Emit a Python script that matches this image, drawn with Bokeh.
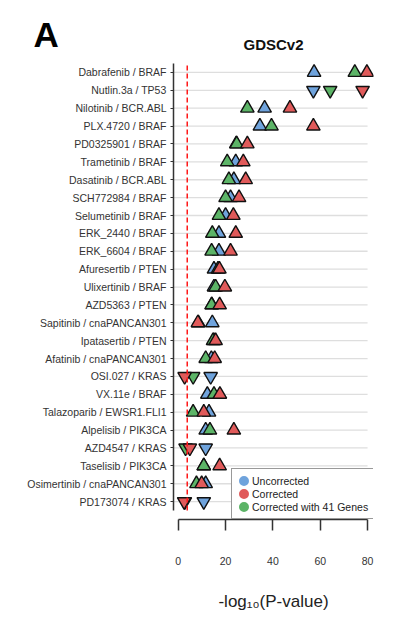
from bokeh.plotting import figure
from bokeh.models import (ColumnDataSource, Range1d, FixedTicker, Legend, LegendItem, Title)
from bokeh.embed import file_html
from bokeh.resources import INLINE

# ---------------- data ----------------
drugs = ["Dabrafenib / BRAF", "Nutlin.3a / TP53", "Nilotinib / BCR.ABL", "PLX.4720 / BRAF",
         "PD0325901 / BRAF", "Trametinib / BRAF", "Dasatinib / BCR.ABL", "SCH772984 / BRAF",
         "Selumetinib / BRAF", "ERK_2440 / BRAF", "ERK_6604 / BRAF", "Afuresertib / PTEN",
         "Ulixertinib / BRAF", "AZD5363 / PTEN", "Sapitinib / cnaPANCAN301", "Ipatasertib / PTEN",
         "Afatinib / cnaPANCAN301", "OSI.027 / KRAS", "VX.11e / BRAF", "Talazoparib / EWSR1.FLI1",
         "Alpelisib / PIK3CA", "AZD4547 / KRAS", "Taselisib / PIK3CA", "Osimertinib / cnaPANCAN301",
         "PD173074 / KRAS"]
uncorrected = [57.4, 57.1, 36.5, 34.5, 24.5, 24.3, 23.5, 22.1, 20.0, 17.2, 17.2, 15.1, 15.1,
               14.2, 14.4, 15.1, 14.0, 13.7, 12.3, 13.0, 11.6, 11.6, 10.8, 11.6, 10.8]
corrected = [79.7, 77.9, 47.2, 57.1, 29.2, 27.5, 28.5, 25.7, 23.3, 24.3, 22.1, 17.4, 19.7,
             17.5, 8.3, 15.8, 15.4, 2.7, 17.6, 10.8, 23.5, 4.9, 17.5, 9.9, 2.5]
corrected41 = [74.6, 64.2, 29.2, 39.4, 24.7, 20.7, 21.4, 20.0, 17.2, 14.4, 14.1, 16.8, 15.8,
               14.1, 8.5, 14.7, 11.6, 6.3, 15.1, 6.3, 13.4, 3.1, 10.8, 7.7, 2.8]
direction = ["up", "down", "up", "up", "up", "up", "up", "up", "up", "up", "up", "up", "up",
             "up", "up", "up", "up", "down", "up", "up", "up", "down", "up", "up", "down"]
threshold = 3.8
x_ticks = [0, 20, 40, 60, 80]

series_names = ["Uncorrected", "Corrected", "Corrected with 41 Genes"]
series_colors = ["#6fa3dc", "#e05a5a", "#5cb467"]

# ---------------- figure ----------------
FONT = "Liberation Sans"
n = len(drugs)
rows = [n - i for i in range(n)]
markers = ["triangle" if d == "up" else "inverted_triangle" for d in direction]

p = figure(frame_width=200, frame_height=456,
           min_border_left=173, min_border_right=25, min_border_top=63, min_border_bottom=104,
           x_range=Range1d(-2, 82.5), y_range=Range1d(0, 25.5),
           output_backend="svg", toolbar_location=None)
p.outline_line_color = None
p.xgrid.visible = False
p.ygrid.visible = False
p.title.text = ""
p.title.visible = False

# grid lines (row guides)
p.segment(x0=[x_ticks[0] - 2] * n, x1=[x_ticks[-1]] * n, y0=rows, y1=rows,
          line_color="#dedede", line_width=1.3)

# markers: blue, green, red order
order = [(uncorrected, series_colors[0]), (corrected41, series_colors[2]), (corrected, series_colors[1])]
for vals, col in order:
    src = ColumnDataSource(dict(x=vals, y=rows, m=markers))
    p.scatter(x="x", y="y", marker="m", source=src, size=13.5,
              fill_color=col, line_color="#111111", line_width=1.4)

# significance line
p.segment(x0=[threshold], x1=[threshold], y0=[0.5], y1=[25.5],
          line_color="#ff1a1a", line_width=1.5, line_dash="5 3")

# legend (dummy circle renderers, not drawn in the plot area)
nan = float("nan")
items = []
for name, col in zip(series_names, series_colors):
    r = p.scatter(x=[nan], y=[nan], marker="circle", fill_color=col,
                  line_color=col, line_width=4.8)
    items.append(LegendItem(label=name, renderers=[r]))
legend = Legend(items=items, location=(58, 0), glyph_width=13, glyph_height=13,
                label_height=13, spacing=0, padding=5, label_standoff=2, margin=0,
                border_line_color="#333333", border_line_width=1.2,
                background_fill_color="white", background_fill_alpha=1.0,
                label_text_font=FONT, label_text_font_size="10.5px", label_text_color="#222222")
p.add_layout(legend, "center")

# titles: chart title (closest to frame) and panel letter (outer)
p.add_layout(Title(text="GDSCv2", align="center", standoff=21,
                   text_font=FONT, text_font_size="15px", text_font_style="bold",
                   text_color="#111111"), "above")
p.add_layout(Title(text="A", align="left", offset=-140, standoff=-61,
                   text_font=FONT, text_font_size="35px", text_font_style="bold",
                   text_color="#000000"), "above")

# x axis
xa = p.xaxis[0]
xa.ticker = FixedTicker(ticks=x_ticks)
xa.bounds = (x_ticks[0], x_ticks[-1])
xa.axis_line_color = "#333333"
xa.axis_line_width = 1.5
xa.major_tick_line_color = "#333333"
xa.major_tick_line_width = 1.5
xa.major_tick_out = 11
xa.major_tick_in = 0
xa.minor_tick_line_color = None
xa.major_label_standoff = 26
xa.major_label_text_font = FONT
xa.major_label_text_font_size = "10.5px"
xa.major_label_text_color = "#333333"
xa.axis_label = "-log\u2081\u2080(P-value)"
xa.axis_label_text_font = FONT
xa.axis_label_text_font_size = "17px"
xa.axis_label_text_font_style = "normal"
xa.axis_label_text_color = "#222222"
xa.axis_label_standoff = 24

# y axis
ya = p.yaxis[0]
ya.ticker = FixedTicker(ticks=rows)
ya.bounds = (0.5, 25.5)
ya.major_label_overrides = {r: d for r, d in zip(rows, drugs)}
ya.axis_line_color = "#333333"
ya.axis_line_width = 1.5
ya.major_tick_line_color = "#333333"
ya.major_tick_line_width = 1.2
ya.major_tick_out = 3
ya.major_tick_in = 0
ya.minor_tick_line_color = None
ya.major_label_standoff = 4
ya.major_label_text_font = FONT
ya.major_label_text_font_size = "10.5px"
ya.major_label_text_color = "#333333"

open("out.html", "w").write(file_html(p, INLINE))
